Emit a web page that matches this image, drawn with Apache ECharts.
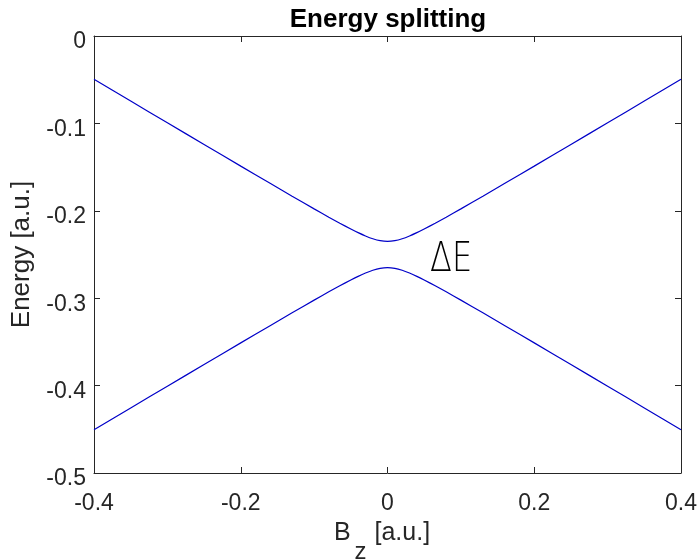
<!DOCTYPE html>
<html>
<head>
<meta charset="utf-8">
<script src="https://cdn.jsdelivr.net/npm/echarts@6/dist/echarts.min.js"></script>
<style>html,body{margin:0;padding:0;background:#fff}#c{width:699px;height:560px}</style>
</head>
<body>
<div id="c"></div>
<script>
var bField = [-0.4,-0.35,-0.3,-0.25,-0.2,-0.16,-0.13,-0.1,-0.08,-0.065,-0.05,-0.04,-0.03,-0.02,-0.01,0,0.01,0.02,0.03,0.04,0.05,0.065,0.08,0.1,0.13,0.16,0.2,0.25,0.3,0.35,0.4];
var upperE = [-0.0494,-0.0744,-0.0993,-0.1241,-0.1489,-0.1686,-0.1833,-0.1978,-0.2073,-0.2142,-0.2208,-0.225,-0.2288,-0.232,-0.2342,-0.235,-0.2342,-0.232,-0.2288,-0.225,-0.2208,-0.2142,-0.2073,-0.1978,-0.1833,-0.1686,-0.1489,-0.1241,-0.0993,-0.0744,-0.0494];
var lowerE = [-0.4506,-0.4256,-0.4007,-0.3759,-0.3511,-0.3314,-0.3167,-0.3022,-0.2927,-0.2858,-0.2792,-0.275,-0.2712,-0.268,-0.2658,-0.265,-0.2658,-0.268,-0.2712,-0.275,-0.2792,-0.2858,-0.2927,-0.3022,-0.3167,-0.3314,-0.3511,-0.3759,-0.4007,-0.4256,-0.4506];
var xTicks = [-0.4,-0.2,0,0.2,0.4];
var yTicks = [-0.5,-0.4,-0.3,-0.2,-0.1,0];
var annotation = {text:'ΔE', x:0.058, y:-0.2563};

function pairs(xs, ys){ return xs.map(function(x,i){return [x, ys[i]];}); }

var ink = '#262626';
var font = 'Liberation Sans, Arial, sans-serif';
var chart = echarts.init(document.getElementById('c'));
var axisCommon = {
  axisLine:{show:true,onZero:false,lineStyle:{color:ink,width:1}},
  axisTick:{show:true,inside:true,length:6,lineStyle:{color:ink}},
  splitLine:{show:false}
};
chart.setOption({
  animation:false,
  backgroundColor:'#fff',
  title:{text:'Energy splitting',left:383,top:2,textAlign:'center',
    textStyle:{fontFamily:font,fontWeight:'bold',fontSize:26,color:'#000'}},
  grid:{left:94,right:18,top:36,bottom:87,containLabel:false,outerBoundsMode:'none'},
  xAxis:[
    Object.assign({type:'value',min:-0.4,max:0.4,interval:0.2,position:'bottom',
      axisLabel:{fontFamily:font,fontSize:23,color:ink,margin:19,formatter:function(v){return String(+v.toFixed(1));}},
      name:'{b|B}{s|z}{b| [a.u.]}',nameLocation:'middle',nameGap:29,
      nameTextStyle:{padding:[0,11,0,0],rich:{b:{fontFamily:font,fontSize:25,color:ink},s:{fontFamily:font,fontSize:24,color:ink,padding:[38,1,0,4]}}}
    },axisCommon),
    Object.assign({type:'value',min:-0.4,max:0.4,interval:0.2,position:'top',axisLabel:{show:false}},axisCommon)
  ],
  yAxis:[
    Object.assign({type:'value',min:-0.5,max:0,interval:0.1,position:'left',
      axisLabel:{margin:8,formatter:function(v){return '{a|' + String(+v.toFixed(1)) + '}';},
        rich:{a:{fontFamily:font,fontSize:23,color:ink,padding:[12,0,0,0]}}},
      name:'Energy [a.u.]',nameLocation:'middle',nameGap:59,nameRotate:90,
      nameTextStyle:{fontFamily:font,fontSize:26,color:ink}
    },axisCommon),
    Object.assign({type:'value',min:-0.5,max:0,interval:0.1,position:'right',axisLabel:{show:false}},axisCommon)
  ],
  series:[
    {type:'line',data:pairs(bField,upperE),smooth:0.25,showSymbol:false,lineStyle:{color:'#0000c8',width:1.2},z:3},
    {type:'line',data:pairs(bField,lowerE),smooth:0.25,showSymbol:false,lineStyle:{color:'#0000c8',width:1.2},z:3}
  ]
});
var p = chart.convertToPixel({xAxisIndex:0,yAxisIndex:0},[annotation.x,annotation.y]);
chart.setOption({graphic:[{type:'text',x:p[0],y:p[1],scaleX:0.78,
  style:{text:annotation.text,font:'200 41px "DejaVu Sans", sans-serif',fill:'#000',align:'left',verticalAlign:'middle'}}]});
</script>
</body>
</html>
